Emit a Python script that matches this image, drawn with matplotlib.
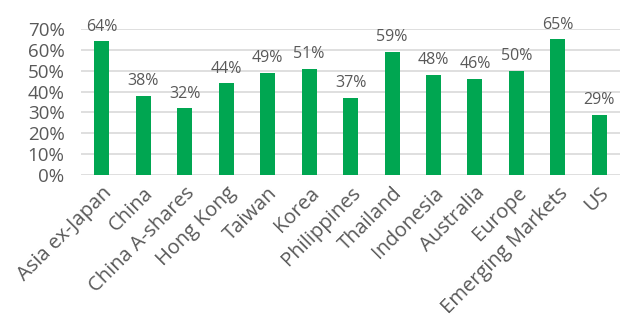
import matplotlib
matplotlib.use("Agg")
import matplotlib.pyplot as plt
from matplotlib.ticker import PercentFormatter

# Data
markets = ["Asia ex-Japan", "China", "China A-shares", "Hong Kong", "Taiwan", "Korea",
           "Philippines", "Thailand", "Indonesia", "Australia", "Europe",
           "Emerging Markets", "US"]
values = [64, 38, 32, 44, 49, 51, 37, 59, 48, 46, 50, 65, 29]

GREEN = "#00A651"
TEXT = "#595959"

plt.rcParams["font.family"] = ["Open Sans", "DejaVu Sans"]

fig = plt.figure(figsize=(6.2, 3.22), dpi=100)
ax = fig.add_axes([0.131, 0.4565, 0.869, 0.4535])

x = range(len(markets))
ax.bar(x, values, width=0.36, color=GREEN, zorder=3)

for xi, v in zip(x, values):
    ax.text(xi, v + 3.2, f"{v}%", ha="center", va="bottom", fontsize=11.5, color=TEXT)

ax.set_xlim(-0.5, len(markets) - 0.5)
ax.set_ylim(0, 70)
ax.set_yticks(range(0, 71, 10))
ax.yaxis.set_major_formatter(PercentFormatter(decimals=0))
ax.grid(axis="y", color="#D9D9D9", linewidth=1.2, zorder=0)
ax.set_axisbelow(True)

for s in ax.spines.values():
    s.set_visible(False)

ax.tick_params(axis="both", length=0, colors=TEXT)
ax.tick_params(axis="y", pad=12, labelsize=13.5)
ax.tick_params(axis="x", pad=6, labelsize=14.5)
ax.set_xticks(list(x))
ax.set_xticklabels(markets, rotation=45, ha="right", rotation_mode="anchor")

fig.savefig("out.png", dpi=100)
